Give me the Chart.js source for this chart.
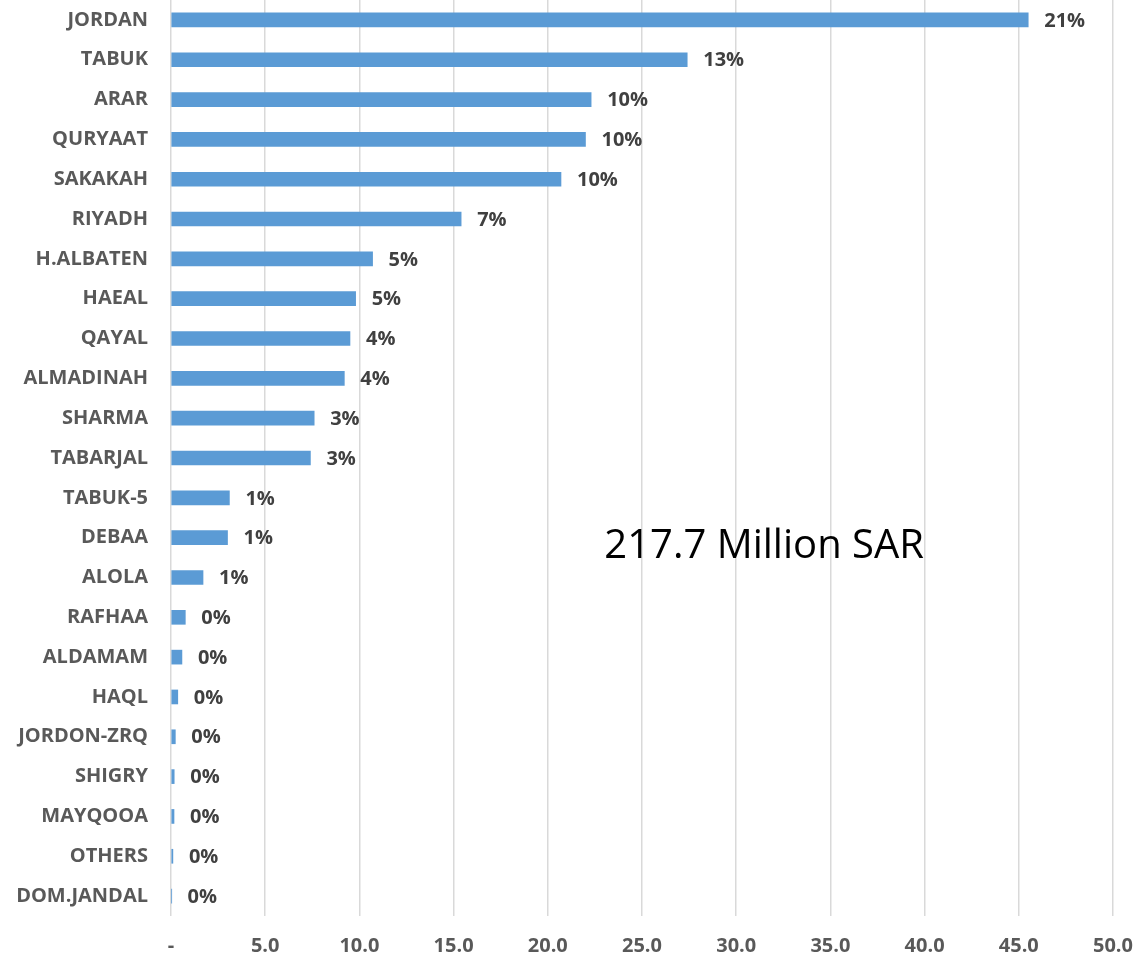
<!DOCTYPE html>
<html lang="en">
<head>
    <meta charset="UTF-8">
    <title>Revenue by Branch</title>
    <script src="https://cdn.jsdelivr.net/npm/chart.js"></script>
</head>
<style>
    html, body {
        margin: 0;
        padding: 0;
        background: #ffffff;
    }
    #chartContainer {
        width: 1141px;
        height: 966px;
    }
</style>
<body>
    <div id="chartContainer">
        <canvas id="BarChartCanvas"></canvas>
    </div>
    <script>
        // branch names, top to bottom
        var branches = ['JORDAN', 'TABUK', 'ARAR', 'QURYAAT', 'SAKAKAH', 'RIYADH', 'H.ALBATEN', 'HAEAL',
            'QAYAL', 'ALMADINAH', 'SHARMA', 'TABARJAL', 'TABUK-5', 'DEBAA', 'ALOLA', 'RAFHAA', 'ALDAMAM',
            'HAQL', 'JORDON-ZRQ', 'SHIGRY', 'MAYQOOA', 'OTHERS', 'DOM.JANDAL'];
        // million SAR per branch
        var amounts = [45.5, 27.4, 22.3, 22.0, 20.7, 15.4, 10.7, 9.8,
            9.5, 9.2, 7.6, 7.4, 3.1, 3.0, 1.7, 0.76, 0.58,
            0.36, 0.23, 0.17, 0.16, 0.1, 0.03];
        var xTicks = [0, 5, 10, 15, 20, 25, 30, 35, 40, 45, 50];
        var totalText = '217.7 Million SAR';

        var total = amounts.reduce(function (a, b) { return a + b; }, 0);

        var labelFont = '"Open Sans", "DejaVu Sans", sans-serif';

        // percentage share printed right of each bar
        var shareLabels = {
            id: 'shareLabels',
            afterDatasetsDraw: function (chart) {
                var ctx = chart.ctx;
                var meta = chart.getDatasetMeta(0);
                ctx.save();
                ctx.font = 'bold 20px ' + labelFont;
                ctx.fillStyle = '#404040';
                ctx.textAlign = 'left';
                ctx.textBaseline = 'middle';
                meta.data.forEach(function (bar, i) {
                    var pct = Math.round(amounts[i] / total * 100) + '%';
                    ctx.fillText(pct, bar.x + 16, bar.y + 1);
                });
                ctx.restore();
            }
        };

        // total amount written inside the plot
        var totalNote = {
            id: 'totalNote',
            afterDraw: function (chart) {
                var ctx = chart.ctx;
                var x = chart.scales.x.getPixelForValue(23.0);
                var y = chart.scales.y.getPixelForValue(13.5);
                ctx.save();
                ctx.font = '40px ' + labelFont;
                ctx.fillStyle = '#000000';
                ctx.textAlign = 'left';
                ctx.textBaseline = 'alphabetic';
                ctx.fillText(totalText, x, y);
                ctx.restore();
            }
        };

        var ctx = document.getElementById('BarChartCanvas').getContext('2d');
        window.myChart = new Chart(ctx, {
            type: 'bar',
            data: {
                labels: branches,
                datasets: [{
                    data: amounts,
                    backgroundColor: '#5B9BD5',
                    borderWidth: 0,
                    barThickness: 14
                }]
            },
            options: {
                indexAxis: 'y',
                responsive: true,
                maintainAspectRatio: false,
                animation: false,
                layout: {
                    padding: { top: 0, right: 28, bottom: 8, left: 0 }
                },
                plugins: {
                    legend: { display: false },
                    tooltip: { enabled: false }
                },
                scales: {
                    x: {
                        min: 0,
                        max: 50,
                        afterBuildTicks: function (scale) {
                            scale.ticks = xTicks.map(function (v) { return { value: v }; });
                        },
                        afterFit: function (scale) {
                            // keep the plot edge fixed, the last label may overhang
                            scale.height = 42;
                            scale.paddingLeft = 0;
                            scale.paddingRight = 0;
                        },
                        grid: {
                            color: '#D9D9D9',
                            lineWidth: 1.5,
                            drawTicks: false
                        },
                        border: { display: false },
                        ticks: {
                            padding: 18,
                            color: '#595959',
                            font: { family: labelFont, size: 20, weight: 'bold' },
                            callback: function (value) {
                                return value === 0 ? '-' : value.toFixed(1);
                            }
                        }
                    },
                    y: {
                        afterFit: function (scale) {
                            scale.width = 171;
                            scale.paddingTop = 0;
                            scale.paddingBottom = 0;
                        },
                        grid: { display: false, drawTicks: false },
                        border: { display: false },
                        ticks: {
                            padding: 23,
                            color: '#595959',
                            autoSkip: false,
                            font: { family: labelFont, size: 20, weight: 'bold' }
                        }
                    }
                }
            },
            plugins: [shareLabels, totalNote]
        });
    </script>
</body>
</html>
